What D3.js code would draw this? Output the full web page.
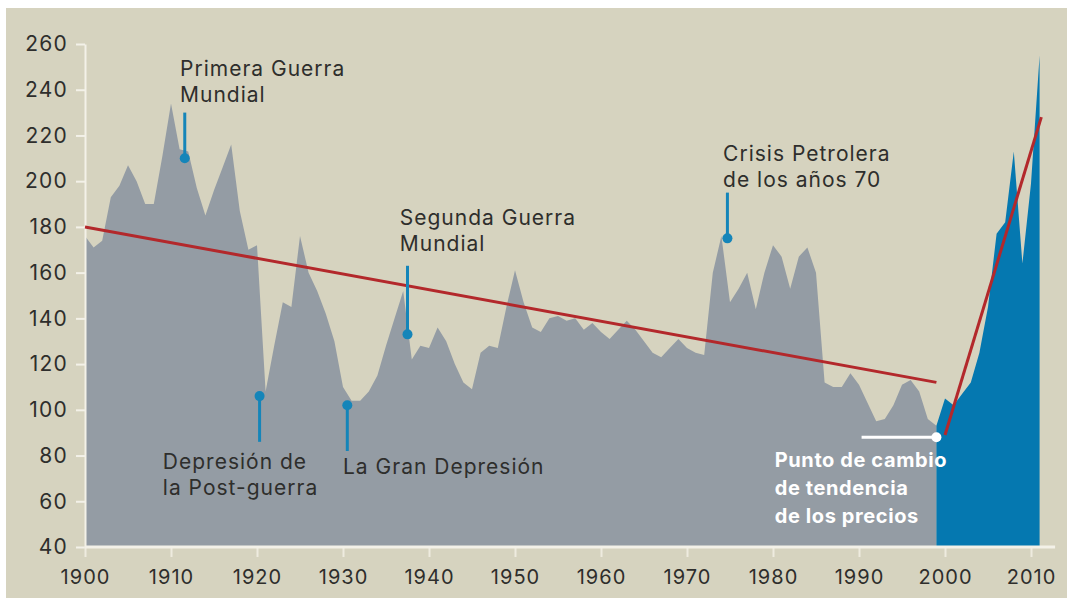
<!DOCTYPE html>
<html>
<head>
<meta charset="utf-8">
<script src="https://cdn.jsdelivr.net/npm/d3@7"></script>
<style>
  body { margin: 0; background: #fff; }
  svg { display: block; }
  text { font-family: Inter, "Noto Sans", sans-serif; }
</style>
</head>
<body>
<div id="my_datavis"></div>
<script>
var W = 1067, H = 599;

// data (price index)
var years = d3.range(1900, 2000);
var values = [176, 171, 174, 193, 198, 207, 200, 190, 190, 211,
              234, 214, 213, 197, 185, 196, 206, 216, 187, 170,
              172, 108, 128, 147, 145, 176, 160, 152, 142, 130,
              110, 104, 104, 108, 115, 128, 140, 152, 122, 128,
              127, 136, 130, 120, 112, 109, 125, 128, 127, 145,
              161, 147, 136, 134, 140, 141, 139, 140, 135, 138,
              134, 131, 135, 139, 135, 130, 125, 123, 127, 131,
              127, 125, 124, 160, 176, 147, 153, 160, 144, 160,
              172, 167, 153, 167, 171, 160, 112, 110, 110, 116,
              111, 103, 95, 96, 102, 111, 113, 108, 96, 93];
var recentYears = d3.range(1999, 2012);
var recentValues = [93, 105, 102, 107, 112, 125, 145, 177, 182, 213, 164, 199, 255];

var trendOld = [[1900, 180], [1999, 112]];
var trendNew = [[2000, 89], [2011.2, 228]];

var yTicks = [40, 60, 80, 100, 120, 140, 160, 180, 200, 220, 240, 260];
var xTicks = d3.range(1900, 2011, 10);

// [year, line end value, dot value]
var markers = [[1911.6, 230, 210], [1920.3, 86, 106], [1930.5, 82, 102],
               [1937.5, 163, 133], [1974.7, 195, 175]];
var labels = [
  {lines: ["Primera Guerra", "Mundial"], year: 1911.05, value: 246},
  {lines: ["Depresión de", "la Post-guerra"], year: 1909.05, value: 74},
  {lines: ["La Gran Depresión"], year: 1930.0, value: 72},
  {lines: ["Segunda Guerra", "Mundial"], year: 1936.6, value: 181},
  {lines: ["Crisis Petrolera", "de los años 70"], year: 1974.2, value: 209}
];
var turnLabel = ["Punto de cambio", "de tendencia", "de los precios"];

var svg = d3.select("#my_datavis").append("svg")
  .attr("width", W).attr("height", H);

svg.append("rect").attr("x", 6).attr("y", 8)
  .attr("width", W - 6).attr("height", H - 9)
  .attr("fill", "#d6d3bf");

var x = d3.scaleLinear().domain([1900, 2010]).range([85, 1031]);
var y = d3.scaleLinear().domain([40, 260]).range([547, 44]);

var oldData = years.map(function(d, i) { return {year: d, value: values[i]}; });
var newData = recentYears.map(function(d, i) { return {year: d, value: recentValues[i]}; });

var area = d3.area()
  .x(function(d) { return x(d.year); })
  .y0(y(40))
  .y1(function(d) { return y(d.value); });

svg.append("path").datum(oldData).attr("d", area).attr("fill", "#949ca4");
svg.append("path").datum(newData).attr("d", area).attr("fill", "#0578b0");

// axes
var yAxis = svg.append("g")
  .attr("transform", "translate(" + x(1900) + ",0)")
  .call(d3.axisLeft(y).tickValues(yTicks).tickSize(9).tickSizeOuter(0).tickPadding(8));
yAxis.select(".domain").attr("stroke", "#f3f1e8").attr("stroke-width", 2);
yAxis.selectAll(".tick line").attr("stroke", "#f3f1e8").attr("stroke-width", 2);
yAxis.selectAll(".tick text")
  .attr("fill", "#2e2e2c").attr("font-size", 21).attr("letter-spacing", 1.2)
  .attr("font-family", "Inter, sans-serif");

var xAxis = svg.append("g")
  .attr("transform", "translate(0," + y(40) + ")")
  .call(d3.axisBottom(x).tickValues(xTicks).tickFormat(d3.format("d"))
    .tickSize(10).tickSizeOuter(0).tickPadding(13));
xAxis.select(".domain").remove();
xAxis.selectAll(".tick line").attr("stroke", "#eeebdf").attr("stroke-width", 2);
xAxis.selectAll(".tick text")
  .attr("fill", "#2e2e2c").attr("font-size", 20).attr("letter-spacing", 1)
  .attr("font-family", "Inter, sans-serif");
svg.append("line")
  .attr("x1", x(1900)).attr("x2", x(2012.8))
  .attr("y1", y(40)).attr("y2", y(40))
  .attr("stroke", "#f3f1e8").attr("stroke-width", 3);

// trend lines
var line = d3.line()
  .x(function(d) { return x(d[0]); })
  .y(function(d) { return y(d[1]); });
[trendOld, trendNew].forEach(function(t) {
  svg.append("path").datum(t).attr("d", line)
    .attr("fill", "none").attr("stroke", "#b3282b").attr("stroke-width", 3);
});

// event markers
markers.forEach(function(m) {
  svg.append("line")
    .attr("x1", x(m[0])).attr("x2", x(m[0]))
    .attr("y1", y(m[1])).attr("y2", y(m[2]))
    .attr("stroke", "#1585b9").attr("stroke-width", 3);
  svg.append("circle")
    .attr("cx", x(m[0])).attr("cy", y(m[2])).attr("r", 5)
    .attr("fill", "#1585b9");
});

svg.append("line")
  .attr("x1", x(1990.3)).attr("x2", x(1999))
  .attr("y1", y(88)).attr("y2", y(88))
  .attr("stroke", "#ffffff").attr("stroke-width", 3);
svg.append("circle")
  .attr("cx", x(1999)).attr("cy", y(88)).attr("r", 5).attr("fill", "#ffffff");

// annotation texts
labels.forEach(function(l) {
  var t = svg.append("text")
    .attr("x", x(l.year)).attr("y", y(l.value))
    .attr("fill", "#2e2e2c").attr("font-size", 21).attr("letter-spacing", 1);
  l.lines.forEach(function(s, i) {
    t.append("tspan").attr("x", x(l.year)).attr("dy", i ? 26 : 0).text(s);
  });
});

var tl = svg.append("text")
  .attr("x", x(1980.2)).attr("y", y(75))
  .attr("fill", "#ffffff").attr("font-size", 20).attr("font-weight", 700)
  .attr("letter-spacing", 0.6);
turnLabel.forEach(function(s, i) {
  tl.append("tspan").attr("x", x(1980.2)).attr("dy", i ? 28 : 0).text(s);
});
</script>
</body>
</html>
